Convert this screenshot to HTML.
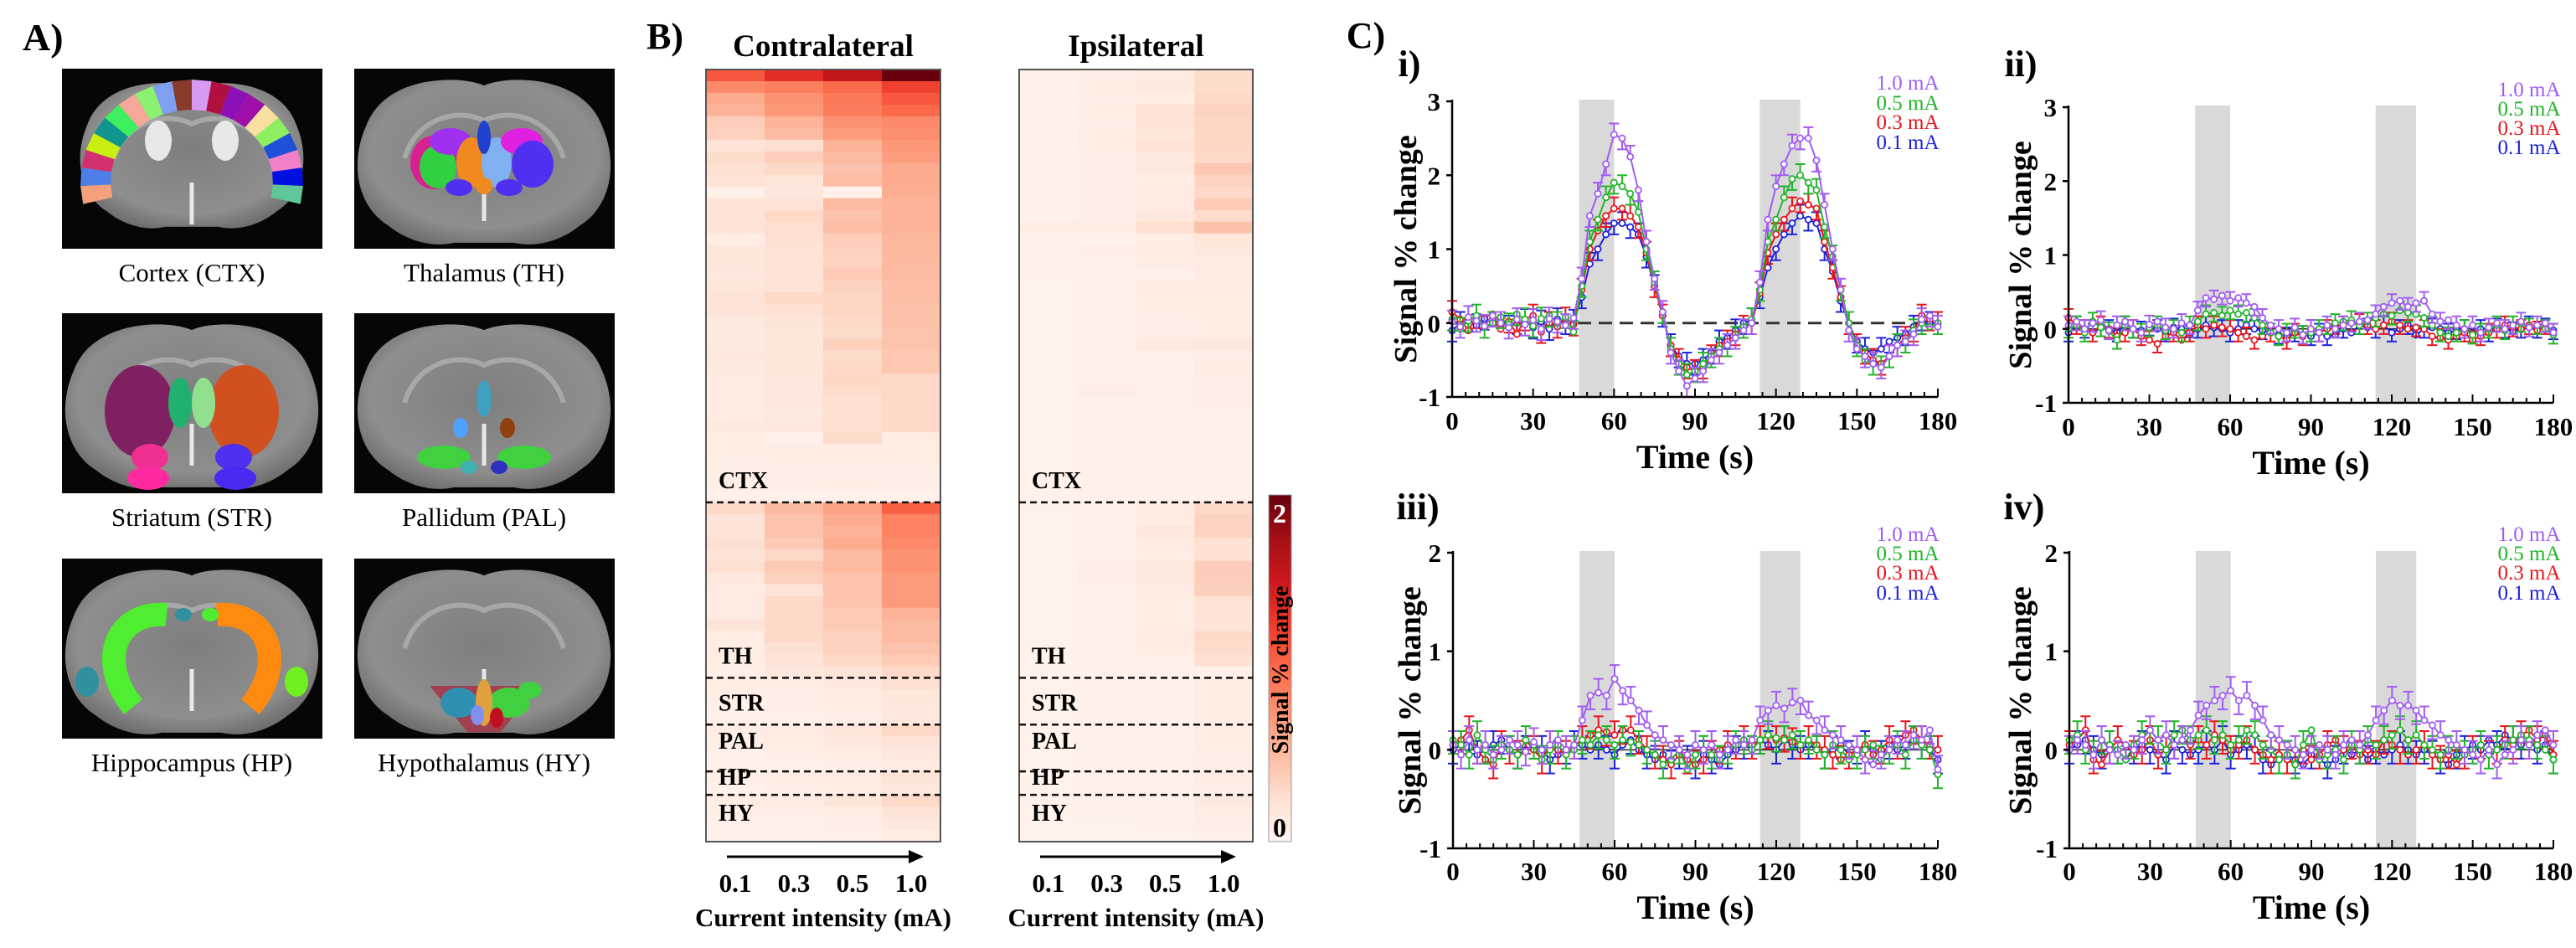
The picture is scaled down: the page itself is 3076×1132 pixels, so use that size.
<!DOCTYPE html>
<html><head><meta charset="utf-8"><style>
html,body{margin:0;padding:0;background:#fff}
svg{display:block}
svg text{font-family:"Liberation Serif","DejaVu Serif",serif}
</style></head><body>
<svg id="fig" xmlns="http://www.w3.org/2000/svg" width="3076" height="1132" viewBox="0 0 3076 1132" font-family="Liberation Serif, DejaVu Serif, serif">
<defs>
<radialGradient id="brainGrad" cx="50%" cy="45%" r="60%"><stop offset="0" stop-color="#7e7e7e"/><stop offset="0.75" stop-color="#8e8e8e"/><stop offset="1" stop-color="#6a6a6a"/></radialGradient>
<linearGradient id="cbarGrad" x1="0" y1="1" x2="0" y2="0">
<stop offset="0" stop-color="#fff5f0"/><stop offset="0.125" stop-color="#fee0d2"/><stop offset="0.25" stop-color="#fcbba1"/><stop offset="0.375" stop-color="#fc9272"/><stop offset="0.5" stop-color="#fb6a4a"/><stop offset="0.625" stop-color="#ef3b2c"/><stop offset="0.75" stop-color="#cb181d"/><stop offset="0.875" stop-color="#a50f15"/><stop offset="1" stop-color="#67000d"/></linearGradient>
</defs>
<g id="panelA"></g>
<g id="panelB"></g>
<g id="panelC"></g>
</svg>
<script>
// ---------- Heatmap data (signal % change, cols = 0.1,0.3,0.5,1.0 mA) ----------
const intensityLabels = ["0.1","0.3","0.5","1.0"];
const regionNames = ["CTX","TH","STR","PAL","HP","HY"];
const regionRowCounts = [37,15,4,4,2,4];
const contraRows = [
[1.1,1.35,1.56,2.0],[0.8,0.86,1.0,1.22],[0.6,0.75,0.92,1.1],[0.55,0.72,0.88,1.0],[0.38,0.55,0.75,0.8],
[0.36,0.5,0.7,0.78],[0.2,0.25,0.55,0.72],[0.28,0.38,0.5,0.68],[0.24,0.3,0.45,0.6],[0.22,0.18,0.48,0.6],
[0.06,0.16,0.06,0.58],[0.22,0.22,0.5,0.55],[0.2,0.3,0.44,0.55],[0.2,0.26,0.48,0.55],[0.1,0.24,0.38,0.52],
[0.18,0.22,0.36,0.52],[0.18,0.22,0.34,0.5],[0.16,0.2,0.4,0.5],[0.18,0.22,0.34,0.48],[0.2,0.3,0.32,0.48],
[0.2,0.24,0.32,0.46],[0.14,0.2,0.3,0.46],[0.14,0.18,0.28,0.44],[0.14,0.18,0.36,0.44],[0.16,0.18,0.28,0.42],
[0.14,0.18,0.3,0.42],[0.12,0.16,0.32,0.3],[0.12,0.16,0.28,0.3],[0.12,0.15,0.24,0.3],[0.12,0.14,0.24,0.3],
[0.14,0.16,0.26,0.3],[0.1,0.06,0.28,0.1],[0.1,0.1,0.12,0.1],[0.08,0.1,0.1,0.1],[0.08,0.08,0.08,0.08],
[0.08,0.08,0.1,0.08],[0.06,0.06,0.06,0.06],
[0.3,0.5,0.65,1.05],[0.2,0.45,0.6,0.85],[0.2,0.45,0.55,0.85],[0.25,0.4,0.6,0.8],[0.2,0.3,0.5,0.75],
[0.25,0.4,0.5,0.75],[0.15,0.35,0.45,0.7],[0.12,0.2,0.45,0.7],[0.12,0.3,0.45,0.7],[0.12,0.3,0.4,0.55],
[0.2,0.3,0.4,0.5],[0.1,0.3,0.35,0.5],[0.1,0.25,0.35,0.45],[0.1,0.2,0.3,0.4],[0.08,0.15,0.2,0.3],
[0.1,0.1,0.15,0.25],[0.08,0.08,0.12,0.18],[0.06,0.08,0.1,0.15],[0.06,0.06,0.08,0.15],
[0.1,0.12,0.18,0.3],[0.08,0.1,0.15,0.2],[0.06,0.08,0.1,0.15],[0.06,0.06,0.08,0.12],
[0.08,0.1,0.12,0.2],[0.06,0.08,0.1,0.15],
[0.1,0.12,0.18,0.3],[0.08,0.08,0.1,0.2],[0.06,0.06,0.08,0.15],[0.05,0.05,0.06,0.1]];
const ipsiRows = [
[0.06,0.08,0.12,0.28],[0.06,0.1,0.14,0.28],[0.05,0.08,0.1,0.3],[0.05,0.1,0.22,0.34],[0.05,0.08,0.22,0.32],
[0.06,0.1,0.18,0.32],[0.05,0.1,0.22,0.32],[0.05,0.08,0.14,0.3],[0.05,0.08,0.16,0.42],[0.06,0.08,0.1,0.34],
[0.05,0.08,0.12,0.3],[0.05,0.08,0.12,0.4],[0.05,0.08,0.16,0.28],[0.1,0.1,0.26,0.46],[0.05,0.06,0.1,0.18],
[0.05,0.08,0.12,0.14],[0.05,0.06,0.1,0.12],[0.05,0.06,0.05,0.12],[0.04,0.06,0.12,0.12],[0.04,0.06,0.1,0.1],
[0.04,0.06,0.1,0.1],[0.04,0.05,0.08,0.1],[0.04,0.05,0.08,0.1],[0.04,0.05,0.14,0.16],[0.04,0.05,0.06,0.08],
[0.04,0.05,0.06,0.12],[0.04,0.06,0.06,0.08],[0.04,0.08,0.06,0.08],[0.04,0.05,0.06,0.08],[0.04,0.05,0.05,0.06],
[0.04,0.05,0.05,0.06],[0.04,0.05,0.05,0.06],[0.04,0.05,0.05,0.06],[0.04,0.05,0.05,0.06],[0.04,0.05,0.05,0.06],
[0.04,0.05,0.05,0.06],[0.04,0.05,0.05,0.06],
[0.04,0.06,0.12,0.3],[0.04,0.06,0.1,0.34],[0.04,0.06,0.16,0.34],[0.04,0.06,0.12,0.24],[0.04,0.06,0.1,0.24],
[0.04,0.08,0.14,0.38],[0.04,0.08,0.14,0.38],[0.04,0.06,0.12,0.36],[0.04,0.06,0.1,0.22],[0.04,0.06,0.1,0.22],
[0.04,0.05,0.1,0.2],[0.04,0.05,0.12,0.3],[0.04,0.05,0.1,0.28],[0.04,0.05,0.06,0.26],[0.04,0.05,0.06,0.06],
[0.04,0.05,0.05,0.1],[0.04,0.05,0.05,0.1],[0.04,0.05,0.05,0.1],[0.04,0.05,0.05,0.1],
[0.04,0.06,0.06,0.1],[0.04,0.05,0.05,0.1],[0.04,0.05,0.05,0.08],[0.04,0.05,0.05,0.08],
[0.04,0.05,0.05,0.12],[0.04,0.05,0.05,0.08],
[0.04,0.05,0.05,0.14],[0.04,0.05,0.05,0.1],[0.04,0.04,0.05,0.08],[0.04,0.04,0.04,0.06]];

// ---------- Time-course data (t = 0,3,...,180 s) ----------
const timeSec = Array.from({length:61},(_, i)=>i*3);
const seriesLabels = ["1.0 mA","0.5 mA","0.3 mA","0.1 mA"];
const stimStart = [47,114];
const stimEnd = [60,129];
const p1_10 = [0.02,-0.05,0.08,0.03,-0.04,0.1,0.0,-0.06,0.05,-0.02,0.04,-0.08,0.06,0.02,-0.03,0.07,0.6,1.45,1.75,2.15,2.55,2.5,2.25,1.8,1.1,0.6,0.15,-0.4,-0.65,-0.85,-0.75,-0.65,-0.5,-0.4,-0.3,-0.2,-0.1,0.0,0.55,1.4,1.85,2.15,2.4,2.5,2.5,2.2,1.6,1.0,0.45,-0.1,-0.35,-0.45,-0.55,-0.6,-0.45,-0.3,-0.25,-0.15,0.05,0.1,-0.05];
const p1_05 = [0.05,-0.08,0.03,0.1,-0.05,0.0,0.08,-0.02,0.12,0.05,-0.04,0.06,0.1,0.0,0.08,-0.12,0.5,1.1,1.4,1.7,1.9,1.85,1.75,1.5,1.0,0.55,0.15,-0.35,-0.55,-0.7,-0.65,-0.55,-0.45,-0.35,-0.3,-0.2,-0.05,0.05,0.45,1.1,1.4,1.7,1.95,2.0,1.9,1.8,1.3,0.9,0.45,0.0,-0.3,-0.5,-0.55,-0.6,-0.45,-0.3,-0.25,-0.1,0.0,-0.05,0.0];
const p1_03 = [0.15,0.05,-0.1,0.08,-0.05,0.12,-0.08,0.02,-0.15,0.05,0.1,-0.12,0.0,-0.05,0.06,-0.02,0.45,1.0,1.25,1.45,1.55,1.55,1.45,1.3,0.95,0.5,0.1,-0.3,-0.5,-0.6,-0.65,-0.6,-0.45,-0.3,-0.25,-0.15,-0.05,0.0,0.4,0.95,1.2,1.4,1.55,1.65,1.6,1.55,1.1,0.75,0.35,0.0,-0.3,-0.4,-0.5,-0.55,-0.45,-0.3,-0.2,-0.1,0.1,0.05,0.0];
const p1_01 = [-0.1,0.0,0.05,-0.03,0.06,0.0,0.08,-0.05,0.0,0.04,-0.06,0.02,-0.08,0.05,0.0,0.03,0.35,0.8,1.0,1.2,1.35,1.35,1.3,1.2,0.9,0.5,0.1,-0.3,-0.45,-0.55,-0.55,-0.5,-0.4,-0.25,-0.2,-0.1,0.0,0.05,0.35,0.75,1.0,1.2,1.35,1.45,1.4,1.35,1.0,0.7,0.3,0.0,-0.25,-0.35,-0.4,-0.35,-0.25,-0.2,-0.15,-0.05,0.05,0.0,0.0];
const p2_10 = [0.05,0.1,0.0,0.08,0.12,-0.02,0.05,0.1,0.0,-0.05,0.06,0.1,0.02,0.0,0.08,0.05,0.25,0.42,0.4,0.45,0.38,0.42,0.35,0.3,0.15,0.05,0.0,-0.05,0.02,-0.08,0.0,-0.05,0.05,0.0,0.05,0.08,0.1,0.12,0.2,0.3,0.35,0.38,0.3,0.35,0.38,0.2,0.1,0.12,0.05,0.0,0.05,-0.05,0.02,0.08,0.0,0.05,0.1,0.02,0.05,0.08,-0.05];
const p2_05 = [0.0,0.05,-0.05,0.1,0.02,-0.03,-0.15,0.05,0.0,-0.05,0.02,0.05,-0.02,0.0,-0.05,0.05,0.1,0.2,0.22,0.18,0.25,0.2,0.22,0.15,0.05,-0.05,-0.1,-0.05,0.0,-0.08,-0.05,0.0,0.05,0.08,0.1,0.12,0.05,0.1,0.15,0.2,0.18,0.25,0.22,0.2,0.15,0.05,-0.05,-0.1,-0.05,0.0,-0.08,-0.05,0.0,0.05,-0.02,0.05,0.08,0.02,0.05,0.0,-0.08];
const p2_03 = [0.15,0.05,0.0,-0.05,0.05,0.0,-0.1,-0.05,0.0,-0.1,-0.15,-0.2,-0.1,-0.05,-0.15,-0.05,0.05,0.0,0.05,0.02,0.0,-0.05,-0.1,-0.15,-0.1,-0.05,-0.1,-0.15,-0.05,-0.1,0.0,-0.05,0.0,0.05,0.05,0.1,0.08,0.05,0.0,0.05,0.1,0.05,0.0,0.02,0.0,-0.1,-0.12,-0.15,-0.1,-0.05,-0.15,-0.1,-0.05,0.0,0.05,0.02,0.0,0.05,-0.02,0.05,-0.05];
const p2_01 = [-0.05,0.05,0.0,-0.05,0.02,0.0,-0.05,0.05,0.0,-0.02,0.03,0.0,-0.05,0.02,0.0,-0.08,0.0,0.05,0.02,0.0,-0.05,0.0,0.05,0.0,-0.02,-0.05,-0.08,-0.1,-0.05,-0.08,-0.1,-0.05,-0.1,-0.08,0.0,-0.05,0.05,0.02,0.0,0.05,-0.05,0.0,0.05,-0.08,0.0,0.02,0.0,-0.05,-0.02,0.0,-0.05,0.0,-0.05,0.02,0.0,-0.03,0.0,0.05,0.0,0.02,-0.02];
const p3_10 = [0.05,-0.05,0.1,0.0,0.05,-0.05,0.0,0.1,0.05,-0.02,0.08,0.0,0.05,0.1,0.0,0.05,0.3,0.55,0.58,0.55,0.72,0.6,0.5,0.4,0.25,0.15,0.1,0.05,0.0,-0.05,0.05,0.0,0.05,-0.05,0.0,0.1,0.05,0.1,0.3,0.4,0.45,0.42,0.48,0.5,0.35,0.3,0.2,0.15,0.1,0.05,0.0,-0.1,-0.15,-0.05,0.0,0.1,0.05,0.15,0.1,0.2,-0.2];
const p3_05 = [0.1,0.05,-0.05,0.15,0.0,-0.1,0.05,0.0,-0.05,0.1,0.05,-0.1,0.0,0.05,-0.05,0.0,0.1,0.05,0.15,0.1,0.05,0.1,0.08,0.05,0.0,-0.05,-0.15,-0.1,0.0,-0.2,-0.05,0.0,-0.05,-0.1,0.0,0.05,0.1,0.0,0.1,0.15,0.12,0.1,0.15,0.05,0.1,0.0,-0.05,0.05,0.0,-0.1,-0.05,0.0,0.05,-0.1,0.0,0.05,-0.05,0.1,0.05,0.0,-0.25];
const p3_03 = [0.05,0.1,0.2,0.0,-0.1,-0.15,0.05,0.0,-0.05,0.1,0.0,-0.1,0.05,0.0,-0.05,0.05,0.1,0.15,0.2,0.18,0.15,0.2,0.2,0.1,0.0,-0.05,-0.1,-0.15,-0.05,-0.1,-0.15,-0.1,-0.05,0.0,0.05,0.05,0.1,0.05,0.1,0.15,0.1,0.12,0.08,0.05,0.1,0.05,0.0,-0.05,-0.1,-0.05,0.0,0.05,-0.05,0.0,0.1,0.05,0.15,0.2,0.1,0.05,0.0];
const p3_01 = [0.0,0.05,0.1,-0.05,0.0,0.05,0.1,0.0,-0.05,0.0,0.05,0.0,-0.1,-0.05,0.0,0.05,0.05,0.0,0.05,0.0,-0.05,0.05,0.1,0.0,-0.05,-0.1,-0.05,-0.15,-0.05,-0.1,-0.15,-0.05,-0.1,-0.15,-0.05,0.0,0.05,0.0,0.1,0.05,0.0,0.1,0.05,0.0,0.05,0.0,-0.05,0.0,0.05,-0.05,0.0,0.05,0.0,-0.05,0.05,0.0,0.05,0.1,0.05,0.0,-0.1];
const p4_10 = [0.0,0.1,0.05,-0.05,0.1,0.0,-0.05,0.05,0.0,0.1,0.2,0.1,0.15,0.05,0.1,0.2,0.35,0.45,0.5,0.55,0.6,0.5,0.55,0.45,0.3,0.15,0.1,0.05,0.0,-0.05,0.0,0.05,0.0,-0.05,0.05,0.1,0.05,0.15,0.3,0.4,0.5,0.45,0.45,0.4,0.3,0.25,0.15,0.1,0.05,0.0,-0.05,-0.1,0.0,-0.15,-0.05,0.0,0.1,0.05,0.15,0.2,0.05];
const p4_05 = [0.1,0.15,0.0,-0.05,0.1,0.05,0.0,-0.1,0.05,0.15,0.2,0.1,0.0,0.15,0.2,0.1,0.15,0.2,0.1,0.15,0.05,0.1,0.2,0.15,0.05,0.0,-0.1,-0.05,-0.15,0.05,0.2,-0.1,-0.05,0.0,-0.1,0.05,0.0,0.1,0.05,0.1,0.15,0.2,0.1,0.15,0.05,0.0,-0.05,0.0,0.05,-0.05,0.0,0.05,-0.05,0.0,0.05,0.1,0.15,0.1,0.05,0.0,-0.1];
const p4_03 = [0.05,0.1,0.2,-0.1,-0.15,0.0,0.1,0.05,-0.05,0.0,0.1,-0.05,0.0,0.05,0.1,0.05,0.1,0.05,0.15,0.1,0.0,0.05,0.1,0.0,-0.05,-0.1,-0.05,-0.1,-0.15,0.0,-0.1,-0.05,0.05,0.1,0.0,0.05,-0.05,0.0,-0.05,0.1,0.05,0.0,-0.05,0.0,0.05,-0.05,-0.1,-0.05,-0.15,-0.05,0.0,0.05,-0.05,0.0,0.1,0.05,0.15,0.2,0.1,0.15,-0.05];
const p4_01 = [0.0,0.05,0.1,0.0,-0.05,0.05,0.0,-0.1,0.0,0.05,0.0,-0.05,-0.1,0.05,0.0,-0.05,0.0,0.05,0.0,0.1,-0.05,0.0,0.05,0.0,-0.1,-0.15,-0.1,-0.05,-0.1,-0.15,-0.05,-0.1,-0.15,-0.1,0.0,-0.05,0.0,-0.1,0.0,-0.05,0.0,0.05,0.0,-0.05,0.0,-0.05,-0.1,-0.15,-0.05,0.0,0.05,0.0,0.1,0.05,0.15,0.1,0.05,0.1,0.0,0.05,-0.1];
const errSize = [0.15,0.12,0.14,0.14];

// ---------- helpers ----------
const NS="http://www.w3.org/2000/svg";
const SERIF="Liberation Serif, DejaVu Serif, serif";
function mk(parent, tag, attrs, txt){const e=document.createElementNS(NS,tag);for(const k in attrs)e.setAttribute(k,attrs[k]);if(tag==='text')e.setAttribute('font-family',SERIF);if(txt!==undefined)e.textContent=txt;parent.appendChild(e);return e;}
const stops=[[0,[255,245,240]],[0.125,[254,224,210]],[0.25,[252,187,161]],[0.375,[252,146,114]],[0.5,[251,106,74]],[0.625,[239,59,44]],[0.75,[203,24,29]],[0.875,[165,15,21]],[1,[103,0,13]]];
function reds(v){let f=Math.max(0,Math.min(1,v/2));for(let i=1;i<stops.length;i++){if(f<=stops[i][0]){const a=stops[i-1],b=stops[i];const u=(f-a[0])/(b[0]-a[0]);const c=a[1].map((x,j)=>Math.round(x+(b[1][j]-x)*u));return `rgb(${c[0]},${c[1]},${c[2]})`;}}return "rgb(103,0,13)";}

// ---------- Panel A ----------
const A=document.getElementById('panelA');
let t=mk(A,'text',{x:27,y:60,'font-size':46,'font-weight':'bold'},'A)');


const boxes=[{x:74,y:82,name:'Cortex (CTX)',k:'ctx'},{x:423,y:82,name:'Thalamus (TH)',k:'th'},
{x:74,y:374,name:'Striatum (STR)',k:'str'},{x:423,y:374,name:'Pallidum (PAL)',k:'pal'},
{x:74,y:667,name:'Hippocampus (HP)',k:'hp'},{x:423,y:667,name:'Hypothalamus (HY)',k:'hy'}];
function brainPath(cx,top,s){return `M${cx},${top+8*s} C${cx-25*s},${top-4*s} ${cx-115*s},${top-6*s} ${cx-138*s},${top+55*s} C${cx-158*s},${top+100*s} ${cx-148*s},${top+150*s} ${cx-112*s},${top+172*s} C${cx-90*s},${top+190*s} ${cx-60*s},${top+198*s} ${cx-35*s},${top+192*s} L${cx+35*s},${top+192*s} C${cx+60*s},${top+198*s} ${cx+90*s},${top+190*s} ${cx+112*s},${top+172*s} C${cx+148*s},${top+150*s} ${cx+158*s},${top+100*s} ${cx+138*s},${top+55*s} C${cx+115*s},${top-6*s} ${cx+25*s},${top-4*s} ${cx},${top+8*s} Z`;}
boxes.forEach(b=>{
  const g=mk(A,'g',{});
  
  
  mk(g,'rect',{x:b.x,y:b.y,width:311,height:215,fill:'#060606'});
  const cx=b.x+155, top=b.y+ (b.k==='ctx'?16:12), s=b.k==='ctx'?0.9:1.02;
  mk(g,'path',{d:brainPath(cx,top,s),fill:'url(#brainGrad)'});
  mk(g,'path',{d:`M${cx-95},${top+95} C${cx-80},${top+45} ${cx-30},${top+35} ${cx},${top+50} C${cx+30},${top+35} ${cx+80},${top+45} ${cx+95},${top+95}`,fill:'none',stroke:'#a8a8a8','stroke-width':6});
  mk(g,'line',{x1:cx,y1:top+120,x2:cx,y2:top+170,stroke:'#e8e8e8','stroke-width':5});
  const C=(x,y,rx,ry,f)=>mk(g,'ellipse',{cx:cx+x,cy:top+y,rx:rx,ry:ry,fill:f});
  if(b.k==='ctx'){
    const cols=['#f4a07a','#4e7fe8','#d2306e','#c8ef10','#10958f','#3ef060','#f3a898','#8cf070','#7f9ff0','#8a3a2a','#d899f0','#b01040','#8b10b8','#a010a8','#f8e0a0','#8ef060','#1f50d8','#f080c8','#0010e0','#60c898'];
    const ecx=cx, ecy=b.y+135, n=cols.length;
    const a0s=Math.PI*0.93, span=Math.PI*1.14;
    for(let i=0;i<n;i++){
      const a0=a0s+span*i/n, a1=a0s+span*(i+1)/n;
      const p=(a,rx,ry)=>[ecx+rx*Math.cos(a),ecy+ry*Math.sin(a)];
      const [x0,y0]=p(a0,97,86),[x1,y1]=p(a1,97,86),[x2,y2]=p(a1,133,122),[x3,y3]=p(a0,133,122);
      const seg=mk(g,'path',{d:`M${x0},${y0} L${x1},${y1} L${x2},${y2} L${x3},${y3} Z`,fill:cols[i]});
      
      
    }
    C(-40,70,16,24,'#e8e8e8');C(40,70,16,24,'#e8e8e8');
  } else if(b.k==='th'){
    C(-60,100,28,32,'#d82090');C(-55,105,22,26,'#30d040');C(-40,75,25,16,'#a030f0');C(-15,100,18,30,'#f08a20');C(15,100,18,30,'#80b0f0');
    C(45,75,25,16,'#e020e0');C(58,102,25,28,'#5030f0');C(0,70,8,20,'#2040d0');C(-30,130,16,10,'#5030f0');C(30,130,16,10,'#5030f0');C(0,128,10,10,'#f08a20');
  } else if(b.k==='str'){
    C(-62,105,42,55,'#7f2060');C(62,105,42,55,'#d05020');C(-14,95,14,30,'#20b070');C(14,95,14,30,'#90e090');
    C(-50,160,22,16,'#f03090');C(50,160,22,16,'#5030f0');C(-52,185,25,14,'#ff2aa0');C(52,185,25,14,'#4a2af0');
  } else if(b.k==='pal'){
    C(0,90,9,22,'#40a0c0');C(-28,125,9,12,'#50a0ff');C(28,125,9,12,'#904010');
    C(-48,160,32,14,'#40d040');C(48,160,32,14,'#40d040');C(-18,172,10,8,'#40b0b0');C(18,172,10,8,'#3030c0');
  } else if(b.k==='hp'){
    mk(g,'path',{d:`M${cx-30},${top+55} C${cx-90},${top+50} ${cx-115},${top+110} ${cx-70},${top+165}`,fill:'none',stroke:'#50ee30','stroke-width':28});
    mk(g,'path',{d:`M${cx+30},${top+55} C${cx+90},${top+50} ${cx+115},${top+110} ${cx+70},${top+165}`,fill:'none',stroke:'#ff8a10','stroke-width':28});
    C(-125,135,14,18,'#3090a0');C(125,135,14,18,'#70f020');C(-10,55,10,8,'#3090a0');C(22,55,10,8,'#50ee30');
  } else {
    mk(g,'path',{d:`M${cx-65},${top+140} L${cx+65},${top+140} L${cx+20},${top+195} L${cx-20},${top+195} Z`,fill:'#a04050'});
    C(-30,160,22,18,'#3090b0');C(30,160,25,18,'#40d040');C(0,160,10,28,'#e0a040');C(-8,175,8,12,'#8090f0');C(55,145,14,10,'#40d040');C(15,178,8,12,'#c01020');
  }
  const lt=mk(A,'text',{x:b.x+155,y:b.y+254,'font-size':31,'text-anchor':'middle'},b.name);
  
  
});

// ---------- Panel B ----------
const B=document.getElementById('panelB');
t=mk(B,'text',{x:794,y:58,'font-size':44,'font-weight':'bold','text-anchor':'middle'},'B)');


const hmTop=83, hmBot=1005, nRows=contraRows.length, rowH=(hmBot-hmTop)/nRows;
function heatmap(x0,x1,rows,title,key){
  const g=mk(B,'g',{});
  
  
  const cw=(x1-x0)/intensityLabels.length;
  const tt=mk(g,'text',{x:(x0+x1)/2,y:67,'font-size':37,'font-weight':'bold','text-anchor':'middle'},title);
  
  
  rows.forEach((r,i)=>r.forEach((v,j)=>{
    const c=mk(g,'rect',{x:x0+j*cw,y:hmTop+i*rowH,width:cw+0.6,height:rowH+0.6,fill:reds(v)});
    
    
  }));
  mk(g,'rect',{x:x0,y:hmTop,width:x1-x0,height:hmBot-hmTop,fill:'none',stroke:'#555','stroke-width':2});
  let acc=0;
  const labelOff=[17,17,17,27,12,25];
  regionRowCounts.forEach((n,k)=>{
    acc+=n; const yl=hmTop+acc*rowH;
    if(k<regionRowCounts.length-1){
      const ln=mk(g,'line',{x1:x0,y1:yl,x2:x1,y2:yl,stroke:'#111','stroke-width':2.5,'stroke-dasharray':'8,5'});
      
      
    }
    const lab=mk(g,'text',{x:x0+15,y:yl-labelOff[k],'font-size':28,'font-weight':'bold'},regionNames[k]);
    
    
  });
  const ax=mk(g,'line',{x1:x0+25,y1:1023,x2:x1-25,y2:1023,stroke:'#000','stroke-width':3});
  
  
  mk(g,'path',{d:`M${x1-20},1023 L${x1-38},1015 L${x1-38},1031 Z`,fill:'#000'});
  intensityLabels.forEach((l,j)=>{
    const tl=mk(g,'text',{x:x0+(j+0.5)*cw,y:1065,'font-size':31,'font-weight':'bold','text-anchor':'middle'},l);
    
    
  });
  const xl=mk(g,'text',{x:(x0+x1)/2,y:1106,'font-size':31,'font-weight':'bold','text-anchor':'middle'},'Current intensity (mA)');
  
  
}
heatmap(843,1123,contraRows,'Contralateral','contralateral');
heatmap(1217,1496,ipsiRows,'Ipsilateral','ipsilateral');
const cb=mk(B,'rect',{x:1515,y:591,width:27,height:414,fill:'url(#cbarGrad)',stroke:'#999','stroke-width':1});


t=mk(B,'text',{x:1528,y:624,'font-size':32,'font-weight':'bold','text-anchor':'middle',fill:'#fff'},'2');


t=mk(B,'text',{x:1528,y:999,'font-size':32,'font-weight':'bold','text-anchor':'middle'},'0');


t=mk(B,'text',{x:0,y:0,'font-size':28,'font-weight':'bold','text-anchor':'middle',transform:'translate(1538,800) rotate(-90)'},'Signal % change');



// ---------- Panel C ----------
const Cg=document.getElementById('panelC');
t=mk(Cg,'text',{x:1631,y:57,'font-size':44,'font-weight':'bold','text-anchor':'middle'},'C)');


const colors=['#a15cf2','#22b52a','#e8151c','#1c22dc'];
const panels=[
 {id:'i',x0:1734,x1:2314,yT:121,yB:474,ymin:-1,ymax:3,lx:1683,ly:76,legX:2278,legY:[99,123,146,170],xlY:502,ttlY:545,ylX:1678,dash:true,series:[p1_10,p1_05,p1_03,p1_01]},
 {id:'ii',x0:2470,x1:3049,yT:128,yB:481,ymin:-1,ymax:3,lx:2413,ly:76,legX:3020,legY:[107,130,153,176],xlY:509,ttlY:552,ylX:2412,dash:false,series:[p2_10,p2_05,p2_03,p2_01]},
 {id:'iii',x0:1735,x1:2314,yT:660,yB:1013,ymin:-1,ymax:2,lx:1693,ly:605,legX:2278,legY:[638,661,684,708],xlY:1040,ttlY:1083,ylX:1683,dash:false,series:[p3_10,p3_05,p3_03,p3_01]},
 {id:'iv',x0:2471,x1:3049,yT:660,yB:1013,ymin:-1,ymax:2,lx:2417,ly:605,legX:3020,legY:[638,661,684,708],xlY:1040,ttlY:1083,ylX:2412,dash:false,series:[p4_10,p4_05,p4_03,p4_01]}];
panels.forEach((P,pi)=>{
  const g=mk(Cg,'g',{});
  
  
  const X=tt=>P.x0+(tt/180)*(P.x1-P.x0);
  const Y=v=>P.yB-(v-P.ymin)/(P.ymax-P.ymin)*(P.yB-P.yT);
  let e=mk(g,'text',{x:P.lx,y:P.ly+15,'font-size':44,'font-weight':'bold','text-anchor':'middle'},P.id+')');
  
  
  stimStart.forEach((s,k)=>{
    const r=mk(g,'rect',{x:X(s),y:P.yT-2,width:X(stimEnd[k])-X(s),height:P.yB-P.yT+2,fill:'#d9d9d9'});
    
    
  });
  const zl=mk(g,'line',{x1:P.x0,y1:Y(0),x2:P.x1,y2:Y(0),stroke:P.dash?'#333':'#222','stroke-width':P.dash?3:1.5,'stroke-dasharray':P.dash?'16,9':'none'});
  
  
  for(let si=3;si>=0;si--){
    const d=P.series[si], col=colors[si], es=errSize[pi];
    const sg=mk(g,'g',{});
    
    
    const pts=d.map((v,i)=>`${X(timeSec[i]).toFixed(1)},${Y(v).toFixed(1)}`).join(' ');
    mk(sg,'polyline',{points:pts,fill:'none',stroke:col,'stroke-width':2});
    d.forEach((v,i)=>{
      const x=X(timeSec[i]), up=((i+si)%2===0);
      const ye=Y(up?v+es:v-es);
      mk(sg,'line',{x1:x,y1:Y(v),x2:x,y2:ye,stroke:col,'stroke-width':2});
      mk(sg,'line',{x1:x-6,y1:ye,x2:x+6,y2:ye,stroke:col,'stroke-width':2});
      const c=mk(sg,'circle',{cx:x,cy:Y(v),r:3.6,fill:'#fff',stroke:col,'stroke-width':1.8});
      
      
    });
  }
  mk(g,'line',{x1:P.x0,y1:P.yT-2,x2:P.x0,y2:P.yB,stroke:'#000','stroke-width':2.5});
  mk(g,'line',{x1:P.x0,y1:P.yB,x2:P.x1,y2:P.yB,stroke:'#000','stroke-width':2.5});
  for(let v=P.ymin;v<=P.ymax;v++){
    mk(g,'line',{x1:P.x0-7,y1:Y(v),x2:P.x0,y2:Y(v),stroke:'#000','stroke-width':2.5});
    const yl=mk(g,'text',{x:P.x0-14,y:Y(v)+11,'font-size':31,'font-weight':'bold','text-anchor':'end'},String(v));
    
    
  }
  for(let s=0;s<=180;s+=5){
    const major=s%30===0;
    mk(g,'line',{x1:X(s),y1:P.yB,x2:X(s),y2:P.yB-(major?10:6),stroke:'#000','stroke-width':2});
    if(major){
      const xl=mk(g,'text',{x:X(s),y:P.xlY+11,'font-size':31,'font-weight':'bold','text-anchor':'middle'},String(s));
      
      
    }
  }
  e=mk(g,'text',{x:(P.x0+P.x1)/2,y:P.ttlY+14,'font-size':40,'font-weight':'bold','text-anchor':'middle'},'Time (s)');
  
  
  e=mk(g,'text',{x:0,y:0,'font-size':38,'font-weight':'bold','text-anchor':'middle',transform:`translate(${P.ylX+13},${(P.yT+P.yB)/2}) rotate(-90)`},'Signal % change');
  
  
  seriesLabels.forEach((l,si)=>{
    const le=mk(g,'text',{x:P.legX,y:P.legY[si]+8,'font-size':25,'text-anchor':'middle',fill:colors[si]},l);
    
    
  });
});
</script>
</body></html>
